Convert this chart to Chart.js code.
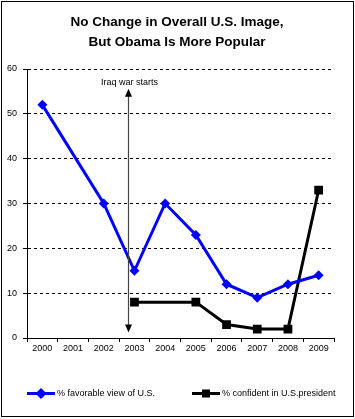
<!DOCTYPE html>
<html><head><meta charset="utf-8">
<script src="https://cdn.jsdelivr.net/npm/chart.js@4/dist/chart.umd.min.js"></script>
<style>html,body{margin:0;padding:0;background:#fff}</style>
</head><body>
<canvas id="c" width="355" height="419" style="display:block;width:355px;height:419px"></canvas>
<script>
const titleLines = ["No Change in Overall U.S. Image,", "But Obama Is More Popular"];
const years = ["2000", "2001", "2002", "2003", "2004", "2005", "2006", "2007", "2008", "2009"];
const favorable = [52, null, 30, 15, 30, 23, 12, 9, 12, 14];
const confident = [null, null, null, 8, null, 8, 3, 2, 2, 33];
const seriesLabels = ["% favorable view of U.S.", "% confident in U.S.president"];
const yMin = 0, yMax = 60, yStep = 10;
const annotationText = "Iraq war starts";
const annotationIndex = 2.79;          // position on the category axis
const annotationRange = [55.6, 1.2];   // arrow from / to (y values)

const FONT = "'Liberation Sans', Arial, sans-serif";
const BLUE = "#0000ff";

const decor = {
  id: 'decor',
  afterDraw(chart) {
    const ctx = chart.ctx;
    const xs = chart.scales.x, ys = chart.scales.y;
    ctx.save();
    // outer frame
    ctx.strokeStyle = '#000'; ctx.lineWidth = 1;
    ctx.strokeRect(1.5, 1.5, 352, 415);
    // title
    ctx.fillStyle = '#000';
    ctx.font = "bold 13.5px " + FONT; ctx.textAlign = 'center'; ctx.textBaseline = 'middle';
    titleLines.forEach((t, i) => ctx.fillText(t, 177, 22 + i * 20));
    // annotation arrow
    const ax = Math.round(xs.getPixelForValue(annotationIndex)) + 0.5;
    const y1 = ys.getPixelForValue(annotationRange[0]);
    const y2 = ys.getPixelForValue(annotationRange[1]);
    ctx.strokeStyle = '#444'; ctx.fillStyle = '#000'; ctx.lineWidth = 1.2;
    ctx.beginPath(); ctx.moveTo(ax, y1 + 6); ctx.lineTo(ax, y2 - 6); ctx.stroke();
    ctx.beginPath(); ctx.moveTo(ax, y1); ctx.lineTo(ax - 3.5, y1 + 8); ctx.lineTo(ax + 3.5, y1 + 8); ctx.closePath(); ctx.fill();
    ctx.beginPath(); ctx.moveTo(ax, y2); ctx.lineTo(ax - 3.5, y2 - 8); ctx.lineTo(ax + 3.5, y2 - 8); ctx.closePath(); ctx.fill();
    ctx.font = "9px " + FONT; ctx.textAlign = 'center'; ctx.textBaseline = 'bottom';
    ctx.fillText(annotationText, ax + 1, y1 - 2);
    // legend
    const ly = 393.5;
    const items = [
      {x: 27, ds: chart.data.datasets[0]},
      {x: 192, ds: chart.data.datasets[1]}
    ];
    ctx.textAlign = 'left'; ctx.textBaseline = 'middle';
    items.forEach(it => {
      ctx.strokeStyle = it.ds.borderColor; ctx.lineWidth = 3;
      ctx.beginPath(); ctx.moveTo(it.x, ly); ctx.lineTo(it.x + 28, ly); ctx.stroke();
      ctx.fillStyle = it.ds.borderColor;
      Chart.helpers.drawPoint(ctx, {pointStyle: it.ds.pointStyle, radius: 3.5, borderWidth: 1, rotation: 0}, it.x + 14, ly);
      ctx.fillStyle = '#000';
      ctx.font = "9px " + FONT;
      ctx.fillText(it.ds.label, it.x + 30, ly);
    });
    ctx.restore();
  }
};

new Chart(document.getElementById('c'), {
  type: 'line',
  data: {
    labels: years,
    datasets: [
      { label: seriesLabels[0], data: favorable, borderColor: BLUE, backgroundColor: BLUE,
        borderWidth: 3, pointStyle: 'rectRot', pointRadius: 5, pointBorderWidth: 0, spanGaps: true, tension: 0 },
      { label: seriesLabels[1], data: confident, borderColor: '#000', backgroundColor: '#000',
        borderWidth: 3, pointStyle: 'rect', pointRadius: 6.2, pointBorderWidth: 0, spanGaps: true, tension: 0 }
    ]
  },
  options: {
    responsive: false,
    animation: false,
    devicePixelRatio: 1,
    layout: { padding: { top: 69, left: 0, right: 21, bottom: 61 } },
    plugins: {
      legend: { display: false },
      tooltip: { enabled: false },
      title: { display: false }
    },
    scales: {
      x: {
        type: 'category', offset: true,
        grid: { offset: true, drawOnChartArea: false, color: '#000', tickLength: 4 },
        border: { color: '#000', width: 1 },
        ticks: { color: '#000', font: { family: FONT, size: 9 }, padding: 1, maxRotation: 0, autoSkip: false },
        afterFit(s) { s.height = 20; }
      },
      y: {
        min: yMin, max: yMax,
        grid: { color: '#000', tickLength: 4, lineWidth: 1 },
        border: { color: '#000', width: 1, dash: [3, 3] },
        ticks: { stepSize: yStep, color: '#000', font: { family: FONT, size: 9 }, padding: 6 },
        afterFit(s) { s.width = 27; }
      }
    }
  },
  plugins: [decor]
});
</script>
</body></html>
